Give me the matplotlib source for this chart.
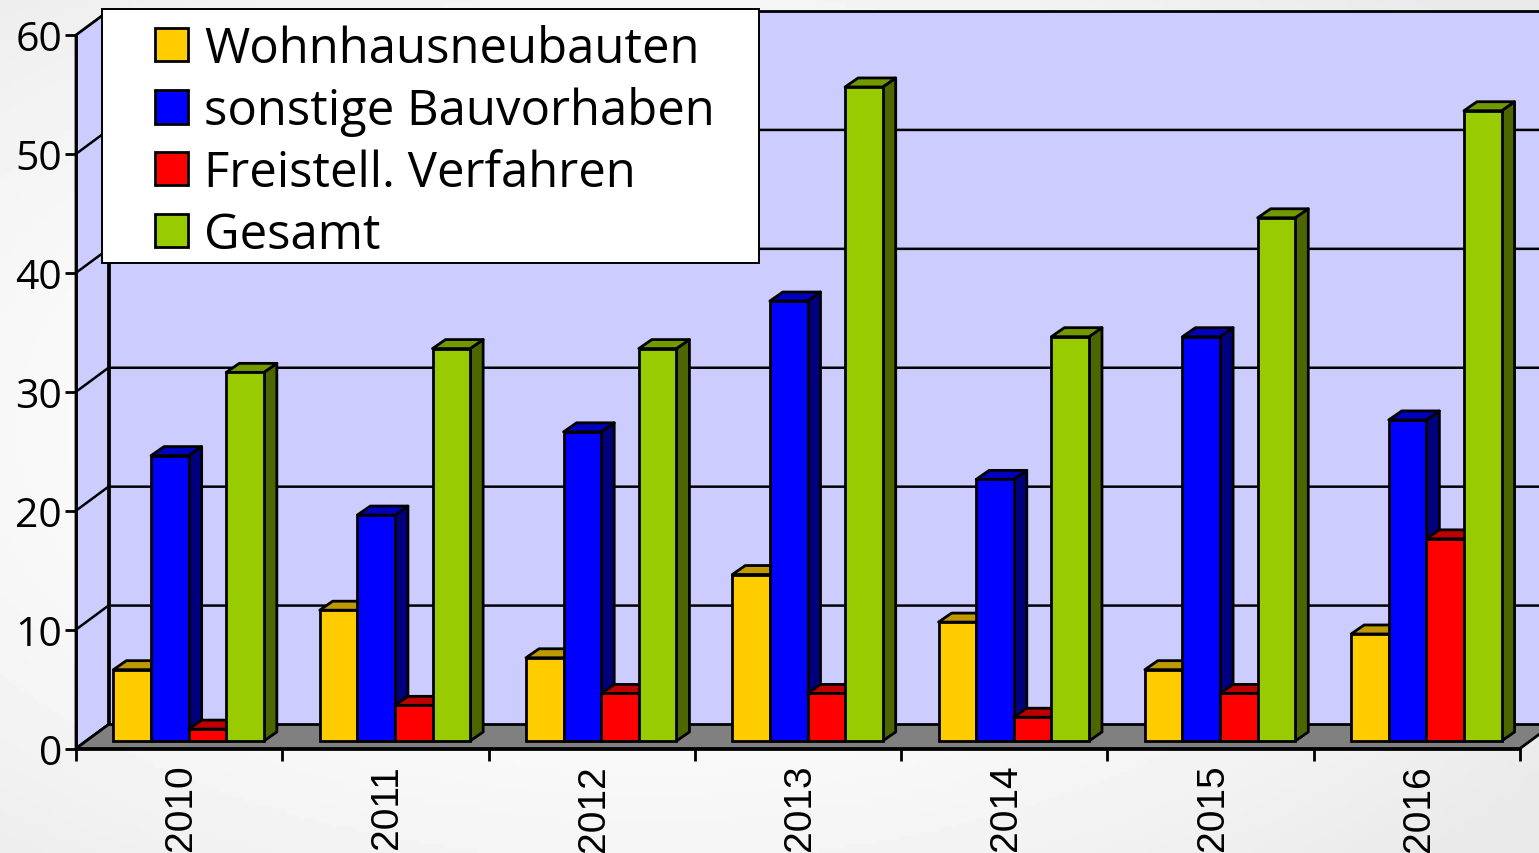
import numpy as np
import matplotlib
matplotlib.use('Agg')
import matplotlib.pyplot as plt
from matplotlib.legend_handler import HandlerPatch
from matplotlib.patches import Patch, Polygon, Rectangle
from matplotlib.transforms import ScaledTranslation

W, H = 1539, 854

years = ['2010', '2011', '2012', '2013', '2014', '2015', '2016']
wohnhaus = [6, 11, 7, 14, 10, 6, 9]
sonstige = [24, 19, 26, 37, 22, 34, 27]
freistell = [1, 3, 4, 4, 2, 4, 17]
gesamt = [31, 33, 33, 55, 34, 44, 53]

names = ['Wohnhausneubauten', 'sonstige Bauvorhaben', 'Freistell. Verfahren', 'Gesamt']
series = [wohnhaus, sonstige, freistell, gesamt]
front_cols = ['#FFCC00', '#0000FF', '#FF0000', '#99CC00']
top_cols = ['#BF9900', '#0000BF', '#BF0000', '#739900']
side_cols = ['#7F6600', '#00007F', '#7F0000', '#4C6600']

fig = plt.figure(figsize=(W / 100, H / 100), dpi=100)

## background gradient
bg = fig.add_axes([0, 0, 1, 1], zorder=0)
yy, xx = np.mgrid[0:1:200j, 0:1:360j]
dist = np.sqrt((xx - 0.42) ** 2 + (yy - 0.5) ** 2)
bg.imshow(1 - 0.085 * np.clip(dist / 0.72, 0, 1) ** 2, cmap='gray', vmin=0, vmax=1,
          aspect='auto', extent=[0, 1, 0, 1])
bg.axis('off')

## front plane of the chart
bottom_px, top_px = 749.5, 36
ax = fig.add_axes([76 / W, 1 - bottom_px / H, (1520 - 76) / W, (bottom_px - top_px) / H], zorder=1)
ax.patch.set_alpha(0)
ax.set_xlim(0, 7)
ax.set_ylim(0, 60)

px_x = 7 / (1520 - 76)
px_y = 60 / (bottom_px - top_px)
wall_dx, wall_dy = 32.5 * px_x, 24 * px_y
depth_dx, depth_dy = 13 * px_x, 9 * px_y
lift_dx, lift_dy = 9.5 * px_x, 7.5 * px_y
bar_w = 37.6 * px_x
lw = 2.0


def poly(pts, fc, z):
    ax.add_patch(Polygon(pts, closed=True, fc=fc, ec='black', lw=lw, zorder=z,
                         clip_on=False, joinstyle='round'))


## walls and floor
poly([(wall_dx, wall_dy), (wall_dx, 60 + wall_dy), (7 + wall_dx, 60 + wall_dy),
      (7 + wall_dx, wall_dy)], '#CCCCFF', 1)
poly([(0, 0), (0, 60), (wall_dx, 60 + wall_dy), (wall_dx, wall_dy)], '#CCCCFF', 1)
poly([(0, 0), (wall_dx, wall_dy), (7 + wall_dx, wall_dy), (7, 0)], '#808080', 2)
for v in range(10, 60, 10):
    ax.plot([0, wall_dx, 7 + wall_dx], [v, v + wall_dy, v + wall_dy], color='black',
            lw=1.8, zorder=2, clip_on=False, solid_joinstyle='miter')

## bars, drawn left to right so each one covers the side of the previous
z = 3
for c in range(len(years)):
    left = c + 0.5 + lift_dx - 2 * bar_w
    for s, vals in enumerate(series):
        x0 = left + s * bar_w
        x1 = x0 + bar_w
        y0 = lift_dy
        y1 = lift_dy + vals[c]
        poly([(x1, y0), (x1 + depth_dx, y0 + depth_dy), (x1 + depth_dx, y1 + depth_dy), (x1, y1)],
             side_cols[s], z)
        poly([(x0, y1), (x0 + depth_dx, y1 + depth_dy), (x1 + depth_dx, y1 + depth_dy), (x1, y1)],
             top_cols[s], z)
        ax.bar(x0, vals[c], width=bar_w, bottom=y0, align='edge', color=front_cols[s],
               edgecolor='black', linewidth=lw, zorder=z + 0.5)
        z += 1

## axes
for name in ['top', 'right']:
    ax.spines[name].set_visible(False)
for name in ['left', 'bottom']:
    ax.spines[name].set_linewidth(lw)
    ax.spines[name].set_zorder(z + 1)
ax.set_yticks(range(0, 70, 10))
ax.tick_params(axis='y', length=8, width=lw, pad=2, labelsize=29.5)
ax.set_xticks(range(8))
ax.set_xticklabels([])
ax.set_xticks(np.arange(7) + 0.5, minor=True)
ax.set_xticklabels(years, minor=True, rotation=90, fontsize=28)
ax.tick_params(axis='x', which='major', length=8.5, width=lw)
ax.tick_params(axis='x', which='minor', length=0, pad=11)
for t in ax.get_yticklabels():
    t.set_family('Open Sans')
for t in ax.get_xticklabels(minor=True):
    t.set_family('Liberation Sans')
    t.set_transform(t.get_transform() + ScaledTranslation(2 / 100, 0, fig.dpi_scale_trans))

## legend frame drawn apart, its own frame would not sit evenly round the rows
fig.add_artist(Rectangle((102 / W, 1 - 264 / H), (759 - 102) / W, (264 - 10) / H,
                         transform=fig.transFigure, fc='white', ec='black', lw=1.4, zorder=19))
## the xpad of the handler moves the swatches away from the frame
handles = [Patch(fc=col, ec='black', lw=lw) for col in front_cols]
leg = fig.legend(handles, names, loc='upper left',
                 bbox_to_anchor=(102 / W, 1 - 270 / H, (759 - 102) / W, (270 - 15) / H),
                 bbox_transform=fig.transFigure, mode='expand',
                 prop={'family': 'Open Sans', 'size': 35.3}, frameon=False,
                 borderaxespad=0, borderpad=0.21, labelspacing=0.25, handlelength=1.55,
                 handleheight=0.68, handletextpad=0.33,
                 handler_map={Patch: HandlerPatch(xpad=0.87)})
leg.set_zorder(20)

fig.savefig('out.png', dpi=100)
plt.close(fig)
